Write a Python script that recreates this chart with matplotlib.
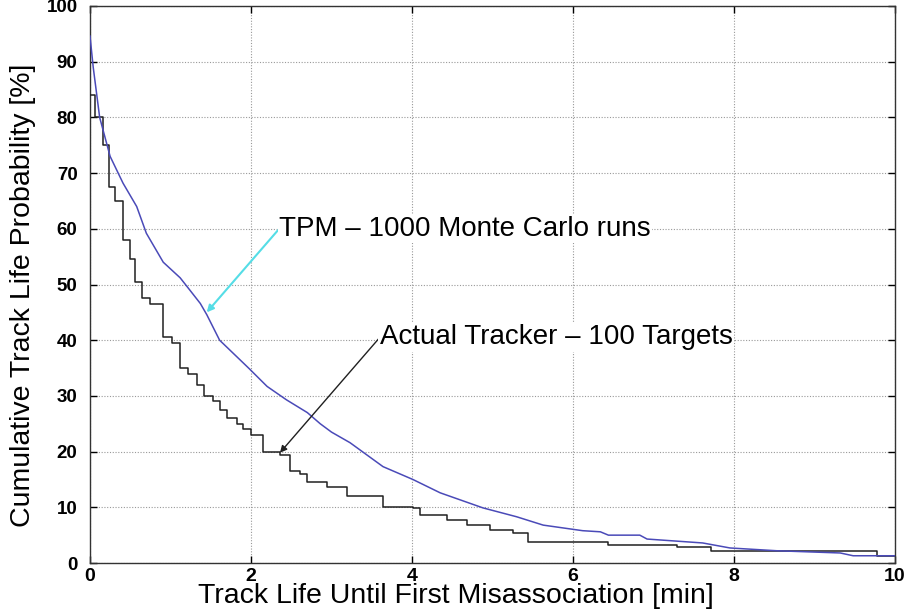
import matplotlib
matplotlib.use("Agg")
import matplotlib.pyplot as plt

# TPM - 1000 Monte Carlo runs (smooth curve)
tpm_x = [0.0, 0.04, 0.12, 0.25, 0.41, 0.58, 0.7, 0.91, 1.12, 1.24, 1.37, 1.45, 1.61, 1.97,
         2.2, 2.44, 2.7, 2.86, 3.0, 3.23, 3.64, 4.01, 4.35, 4.88, 5.3, 5.63, 6.12, 6.34, 6.44,
         6.83, 6.92, 7.61, 7.95, 8.53, 9.32, 9.48, 10.0]
tpm_y = [94.6, 89.0, 80.0, 73.0, 68.2, 64.0, 59.2, 54.0, 51.2, 49.0, 46.6, 44.6, 40.0, 35.0,
         31.7, 29.3, 27.0, 25.0, 23.5, 21.6, 17.3, 15.0, 12.6, 9.9, 8.3, 6.8, 5.8, 5.6, 5.0,
         5.0, 4.3, 3.6, 2.7, 2.2, 1.8, 1.3, 1.3]

# Actual Tracker - 100 Targets (step curve): x where each level begins
act_x = [0.0, 0.06, 0.16, 0.23, 0.31, 0.41, 0.5, 0.56, 0.64, 0.74, 0.91, 1.02, 1.12, 1.22,
         1.33, 1.41, 1.53, 1.62, 1.7, 1.83, 1.9, 2.0, 2.15, 2.36, 2.48, 2.61, 2.7, 2.94,
         3.19, 3.64, 4.01, 4.1, 4.43, 4.68, 4.97, 5.25, 5.44, 6.44, 7.29, 7.71, 9.78, 10.0]
act_y = [84.0, 80.0, 75.0, 67.5, 65.0, 58.0, 54.5, 50.5, 47.5, 46.5, 40.5, 39.5, 35.0, 34.0,
         32.0, 30.0, 29.0, 27.5, 26.0, 25.0, 24.0, 23.0, 20.0, 19.3, 16.5, 16.0, 14.6, 13.7,
         12.0, 10.1, 9.9, 8.6, 7.7, 6.8, 6.0, 5.4, 3.8, 3.2, 2.9, 2.2, 1.3, 1.3]

xticks = [0, 2, 4, 6, 8, 10]
yticks = [0, 10, 20, 30, 40, 50, 60, 70, 80, 90, 100]

plt.rcParams['font.family'] = ['Liberation Sans', 'DejaVu Sans']

fig = plt.figure(figsize=(9.07, 6.13), dpi=100)
ax = fig.add_axes([90/907, 1-563/613, (895-90)/907, (563-6)/613])

ax.plot(act_x, act_y, drawstyle='steps-post', color='#202020', lw=1.1, zorder=3)
ax.plot(tpm_x, tpm_y, color='#4a4ab8', lw=1.1, zorder=4)

ax.set_xlim(0, 10)
ax.set_ylim(0, 100)
ax.set_xticks(xticks)
ax.set_yticks(yticks)
ax.set_xticklabels([str(t) for t in xticks], fontsize=14, fontweight='bold')
ax.set_yticklabels([str(t) for t in yticks], fontsize=13.5, fontweight='bold')
ax.tick_params(direction='in', top=True, right=True, length=5, width=1)
ax.tick_params(axis='x', pad=3.5)
ax.tick_params(axis='y', pad=9)
ax.grid(True, linestyle=(0, (1, 1.5)), color='#999999', lw=0.8)
for s in ax.spines.values():
    s.set_linewidth(1.0)
    s.set_color('#333333')

ax.set_xlabel('Track Life Until First Misassociation [min]', fontsize=20.5, va='baseline')
ax.xaxis.set_label_coords(0.455, -0.0718)
ax.set_ylabel('Cumulative Track Life Probability [%]', fontsize=20.5, va='center')
ax.yaxis.set_label_coords(-0.083, 0.481)

ax.annotate('TPM \u2013 1000 Monte Carlo runs', xy=(1.45, 45), xytext=(2.35, 60),
            fontsize=20, ha='left', va='center', zorder=6,
            arrowprops=dict(arrowstyle='-|>', color='#55dde6', lw=1.5,
                            mutation_scale=10, shrinkA=0, shrinkB=0, relpos=(0, 0.5)),
            bbox=dict(boxstyle='square,pad=0.05', fc='white', ec='none'))
ax.annotate('Actual Tracker \u2013 100 Targets', xy=(2.36, 19.8), xytext=(3.6, 40.5),
            fontsize=20, ha='left', va='center', zorder=6,
            arrowprops=dict(arrowstyle='-|>', color='#202020', lw=1.0,
                            mutation_scale=10, shrinkA=0, shrinkB=0, relpos=(0, 0.5)),
            bbox=dict(boxstyle='square,pad=0.05', fc='white', ec='none'))

fig.savefig('out.png', dpi=100)
